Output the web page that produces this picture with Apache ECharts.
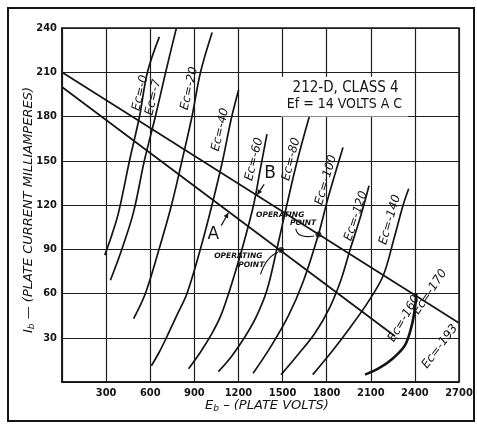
<!DOCTYPE html>
<html>
<head>
<meta charset="utf-8">
<script src="https://cdn.jsdelivr.net/npm/echarts/dist/echarts.min.js"></script>
<style>
html,body{margin:0;padding:0;background:#fff}
#chart{width:477px;height:424px}
</style>
</head>
<body>
<div id="chart"></div>
<script>
// Axis ticks: plate volts and plate current (mA)
const voltTicks = [0, 300, 600, 900, 1200, 1500, 1800, 2100, 2400, 2700];
const currentTicks = [0, 30, 60, 90, 120, 150, 180, 210, 240];

// Plate characteristics of the 212-D, [plate volts, plate current mA]
const ec0   = [[291,86],[340,100],[385,115],[459,150],[527,180],[581,210],[662,234]];
const ec7   = [[329,69],[400,88],[486,115],[560,150],[635,180],[705,210],[778,240]];
const ec20  = [[487,43],[567,60],[660,90],[745,120],[816,150],[884,180],[942,210],[1021,237]];
const ec40  = [[608,11],[660,20],[710,30],[780,45],[850,60],[941,90],[1020,120],[1092,150],[1150,178],[1201,198]];
const ec60  = [[861,9],[940,20],[1020,33],[1080,45],[1133,60],[1180,75],[1224,90],[1303,120],[1350,145],[1394,168]];
const ec80  = [[1063,7],[1150,17],[1240,30],[1320,44],[1393,62],[1461,90],[1529,120],[1600,150],[1688,182]];
const ec100 = [[1300,6],[1420,24],[1540,45],[1640,68],[1744,100],[1810,125],[1911,159]];
const ec120 = [[1490,5],[1600,18],[1720,33],[1823,51],[1900,70],[1960,90],[2030,112],[2088,133]];
const ec140 = [[1705,5],[1830,20],[1960,37],[2080,54],[2184,72],[2260,98],[2320,120],[2358,131]];
const ec170 = [[2061,5],[2150,9],[2250,16],[2333,25],[2378,38],[2400,50],[2410,60]];

const curves = [ec0, ec7, ec20, ec40, ec60, ec80, ec100, ec120, ec140, ec170];

// Load lines A and B and their operating points
const loadLineA = [[0,200],[2265,31]];
const loadLineB = [[0,210],[2700,40]];
const operatingPoints = [[1490,89.5],[1744,100]];

// Curve labels
const curveLabels = ['Ec=-0','Ec=-7','Ec=-20','Ec=-40','Ec=-60','Ec=-80','Ec=-100','Ec=-120','Ec=-140','Ec=-160','Ec=-170','Ec=-193'];
const tubeTitle = ['212-D, CLASS 4', 'Ef = 14 VOLTS A C'];

// --- placement of the annotations (data coordinates) ---
const curveLabelAnchors = [[533,196],[621,193],[866,199],[1077,171],[1307,151],[1559,151],[1796,137],[2000,112.5],[2231,110],[2326,43],[2503,61],[2570,24]];
const curveLabelAngles  = [77,77,77,77,76,76,74,72,74,60,56,53];

const ink = '#141414';
const chart = echarts.init(document.getElementById('chart'), null, {renderer:'canvas'});

const series = curves.map((pts, k) => ({
  type: 'line',
  data: pts,
  smooth: 0.35,
  showSymbol: false,
  silent: true,
  lineStyle: {color: ink, width: k === curves.length - 1 ? 2.6 : 1.7},
  z: 3
}));
series.push({type:'line', data: loadLineA, showSymbol:false, silent:true, lineStyle:{color:ink, width:1.7}, z:3});
series.push({type:'line', data: loadLineB, showSymbol:false, silent:true, lineStyle:{color:ink, width:1.7}, z:3});
series.push({type:'scatter', data: operatingPoints, symbol:'circle', symbolSize:6, itemStyle:{color:ink}, silent:true, z:4});

const axisFont = {color: ink, fontSize: 11, fontWeight: 'bold', fontFamily: '"Liberation Sans Narrow", "DejaVu Sans Condensed", sans-serif'};

chart.setOption({
  animation: false,
  backgroundColor: '#fff',
  grid: {left: 62, right: 18, top: 28, bottom: 42, show: true, borderColor: ink, borderWidth: 1.5, outerBoundsMode: 'none'},
  xAxis: {
    type: 'value', min: voltTicks[0], max: voltTicks[voltTicks.length-1], interval: voltTicks[1]-voltTicks[0],
    axisLine: {show: true, lineStyle: {color: ink, width: 1.5}},
    axisTick: {show: false},
    splitLine: {show: true, lineStyle: {color: '#1e1e1e', width: 1.2}},
    axisLabel: Object.assign({margin: 6, formatter: v => v === 0 ? '' : String(v)}, axisFont)
  },
  yAxis: {
    type: 'value', min: currentTicks[0], max: currentTicks[currentTicks.length-1], interval: currentTicks[1]-currentTicks[0],
    axisLine: {show: true, lineStyle: {color: ink, width: 1.5}},
    axisTick: {show: false},
    splitLine: {show: true, lineStyle: {color: '#1e1e1e', width: 1.2}},
    axisLabel: Object.assign({margin: 5, formatter: v => v === 0 ? '' : String(v)}, axisFont)
  },
  series: series
});

// ---- annotations drawn in pixel space from data coordinates ----
const px = p => chart.convertToPixel({gridIndex: 0}, p);
const deg = a => a * Math.PI / 180;
const gfx = [];

// outer frame of the figure
gfx.push({type:'rect', shape:{x:8, y:8, width:466, height:413}, style:{fill:'none', stroke:ink, lineWidth:2}, z:10});

// curve labels
curveLabels.forEach((t, k) => {
  const p = px(curveLabelAnchors[k]);
  gfx.push({type:'text', x:p[0], y:p[1], rotation:deg(curveLabelAngles[k]), z:12,
    style:{text:t, fill:ink, font:'italic 12px "DejaVu Sans", sans-serif', align:'center', verticalAlign:'middle'}});
});

// tube title box
{
  const a = px([1490, 207]), b = px([2352, 180]);
  gfx.push({type:'rect', shape:{x:a[0], y:a[1], width:b[0]-a[0], height:b[1]-a[1]}, style:{fill:'#fff'}, z:11});
  const t1 = px([1929, 199]), t2 = px([1921, 188.5]);
  gfx.push({type:'text', x:t1[0], y:t1[1], z:12, style:{text:tubeTitle[0], fill:ink, font:'15px "DejaVu Sans Condensed", "Liberation Sans Narrow", sans-serif', align:'center', verticalAlign:'middle'}});
  gfx.push({type:'text', x:t2[0], y:t2[1], z:12, style:{text:tubeTitle[1], fill:ink, font:'14px "DejaVu Sans Condensed", "Liberation Sans Narrow", sans-serif', align:'center', verticalAlign:'middle'}});
}

// load line letters with arrows
function arrow(from, to) {
  const p = px(from), q = px(to);
  gfx.push({type:'line', shape:{x1:p[0], y1:p[1], x2:q[0], y2:q[1]}, style:{stroke:ink, lineWidth:1.2}, z:12});
  const ang = Math.atan2(q[1]-p[1], q[0]-p[0]), L = 5, W = 2.5;
  const bx = q[0] - L*Math.cos(ang), by = q[1] - L*Math.sin(ang);
  gfx.push({type:'polygon', shape:{points:[[q[0],q[1]],[bx - W*Math.sin(ang), by + W*Math.cos(ang)],[bx + W*Math.sin(ang), by - W*Math.cos(ang)]]}, style:{fill:ink}, z:12});
}
[['A',[1029,99.7]],['B',[1416,141]]].forEach(([t, c]) => {
  const p = px(c);
  gfx.push({type:'text', x:p[0], y:p[1], z:12, style:{text:t, fill:ink, font:'17px "DejaVu Sans", sans-serif', align:'center', verticalAlign:'middle'}});
});
arrow([1083,106],[1131,114.6]);
arrow([1375,134],[1328,127]);

// operating point notes
[['OPERATING',[1484,113]],['POINT',[1640,108]],['OPERATING',[1199,85.4]],['POINT',[1287,79.3]]].forEach(([t, c]) => {
  const p = px(c);
  gfx.push({type:'text', x:p[0], y:p[1], z:12, style:{text:t, fill:ink, font:'italic bold 7.5px "DejaVu Sans", sans-serif', align:'center', verticalAlign:'middle'}});
});
{
  const s = px([1590,104]), c1 = px([1600,97]), e = px([1715,99]);
  gfx.push({type:'bezierCurve', shape:{x1:s[0], y1:s[1], cpx1:c1[0], cpy1:c1[1], x2:e[0], y2:e[1]}, style:{stroke:ink, lineWidth:1.1, fill:'none'}, z:12});
  const s2 = px([1350,73]), c2 = px([1390,85]), e2 = px([1470,88]);
  gfx.push({type:'bezierCurve', shape:{x1:s2[0], y1:s2[1], cpx1:c2[0], cpy1:c2[1], x2:e2[0], y2:e2[1]}, style:{stroke:ink, lineWidth:1.1, fill:'none'}, z:12});
}

// axis titles
gfx.push({type:'text', x:29, y:210, rotation:deg(90), z:12,
  style:{text:'{m|I}{s|b}{m| — (PLATE CURRENT MILLIAMPERES)}', align:'center', verticalAlign:'middle',
    rich:{m:{fill:ink, font:'italic 13px "DejaVu Sans", sans-serif'}, s:{fill:ink, font:'italic 9px "DejaVu Sans", sans-serif', padding:[6,0,0,0]}}}});
gfx.push({type:'text', x:267, y:406, z:12,
  style:{text:'{m|E}{s|b}{m| – (PLATE VOLTS)}', align:'center', verticalAlign:'middle',
    rich:{m:{fill:ink, font:'italic 13px "DejaVu Sans", sans-serif'}, s:{fill:ink, font:'italic 9px "DejaVu Sans", sans-serif', padding:[6,0,0,0]}}}});

chart.setOption({graphic: {elements: gfx}});
</script>
</body>
</html>
